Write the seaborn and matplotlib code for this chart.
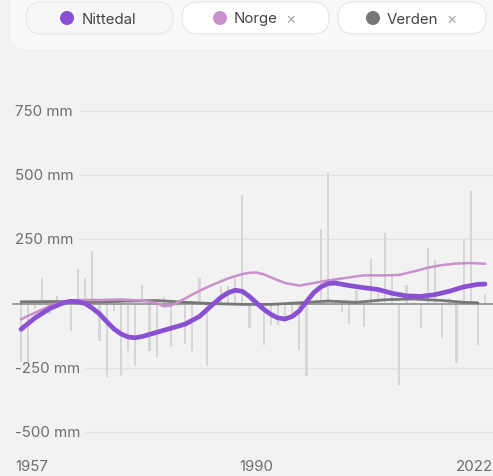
import numpy as np
import matplotlib
matplotlib.use("Agg")
import matplotlib.pyplot as plt
from matplotlib.patches import FancyBboxPatch, Circle
import matplotlib.transforms as mtransforms
import seaborn as sns

# årlige avvik (mm) for Nittedal, 1957-2022
years = list(range(1957, 2023))
anomaly = [-226, -226, -20, 98, -40, 31, -10, -108, 133, 98,
           203, -144, -285, -30, -280, -183, -242, 72, -183, -207,
           27, -168, -10, -156, -183, 101, -242, 8, 70, 68,
           98, 421, -94, 6, -160, -85, -85, -71, -40, -182,
           -280, 8, 290, 514, 10, -33, -81, 52, -91, 172,
           47, 273, 117, -316, 74, 8, -94, 218, 168, -133,
           20, -230, 247, 440, -160, 36]

# glattede kurver
nit_years = [1957, 1959, 1961, 1962, 1963, 1964, 1965, 1966, 1967, 1968, 1969, 1970,
             1971, 1972, 1973, 1974, 1976, 1978, 1980, 1982, 1984, 1985, 1986, 1987,
             1988, 1989, 1990, 1991, 1992, 1993, 1994, 1995, 1996, 1997, 1998, 1999,
             2000, 2001, 2003, 2005, 2007, 2009, 2011, 2013, 2015, 2017, 2019, 2021, 2022]
nit_vals = [-100, -55, -20, -8, 4, 9, 7, 0, -18, -40, -70, -98,
            -118, -130, -133, -128, -112, -96, -80, -50, 0, 24, 42, 52,
            48, 28, 2, -22, -42, -56, -60, -50, -28, 8, 42, 65,
            78, 80, 70, 62, 55, 40, 30, 28, 35, 48, 65, 75, 76]

nor_years = [1957, 1959, 1961, 1963, 1965, 1968, 1971, 1974, 1976, 1977, 1978, 1980,
             1982, 1984, 1986, 1988, 1989, 1990, 1991, 1992, 1994, 1996, 1998, 2000,
             2002, 2005, 2008, 2010, 2012, 2014, 2016, 2018, 2020, 2022]
nor_vals = [-61, -35, -10, 8, 14, 14, 16, 12, 2, -10, -8, 20,
            50, 75, 98, 115, 120, 121, 114, 102, 80, 70, 80, 90,
            98, 110, 110, 112, 125, 140, 150, 156, 158, 155]

ver_years = [1957, 1962, 1967, 1972, 1976, 1980, 1984, 1988, 1992, 1996, 2000, 2004,
             2008, 2012, 2016, 2019, 2021]
ver_vals = [7, 8, 5, 10, 12, 5, 0, -3, -3, 3, 10, 5, 15, 18, 12, 5, 3]

y_ticks = [750, 500, 250, -250, -500]
x_labels = [1957, 1990, 2022]

C_NIT = "#8a4fd2"
C_NOR = "#c990cc"
C_VER = "#777777"
BG = "#f2f2f2"

sns.set_style("white")
plt.rcParams["font.family"] = ["Inter", "DejaVu Sans"]

W, H = 493, 477
fig = plt.figure(figsize=(W / 100, H / 100), dpi=100, facecolor=BG)
ax = fig.add_axes([0, 0, 1, 1], facecolor=BG)

# skala: 1957 -> px 21, 2022 -> px 485 ; 0 mm -> px 304.6
px_per_year = (485 - 21) / 65
xlim = (1957 - 21 / px_per_year, 1957 + (W - 21) / px_per_year)
mm_px = 1250 / 321
ax.set_ylim(-(H - 304.6) * mm_px, 304.6 * mm_px)

sns.barplot(x=years, y=anomaly, native_scale=True, width=0.3, color="#d6d6d6",
            saturation=1, errorbar=None, linewidth=0, edgecolor="none", ax=ax, zorder=1)
ax.set_xlim(*xlim)

ax.axhline(0, xmin=13 / W, xmax=1, color="#9c9c9c", lw=1.4, zorder=2)

sns.lineplot(x=ver_years, y=ver_vals, color=C_VER, lw=2.0, ax=ax, zorder=3)
sns.lineplot(x=nor_years, y=nor_vals, color=C_NOR, lw=1.8, ax=ax, zorder=4)
sns.lineplot(x=nit_years, y=nit_vals, color=C_NIT, lw=3.4, ax=ax, zorder=5,
             solid_capstyle="round", solid_joinstyle="round")
ax.set_axis_off()

# y-etiketter og rutenett
blend = mtransforms.blended_transform_factory(ax.transAxes, ax.transData)
labels = []
for v in y_ticks:
    t = ax.text(15 / W, v, f"{v} mm", transform=blend, ha="left", va="center",
                fontsize=10.8, color="#6d6d6d")
    labels.append((v, t))
fig.canvas.draw()
r = fig.canvas.get_renderer()
for v, t in labels:
    x1 = t.get_window_extent(r).x1
    ax.axhline(v, xmin=(x1 + 6) / W, xmax=1, color="#e2e2e2", lw=1.0, zorder=0)

# x-etiketter
ybot = -(467 - 304.6) * mm_px
for yr, ha, dx in zip(x_labels, ["left", "center", "right"], [-6, 0, 8]):
    ax.annotate(str(yr), (yr, ybot), xytext=(dx * 0.72, 0), textcoords="offset points",
                ha=ha, va="center", fontsize=10.8, color="#6d6d6d")

# legende-panel øverst
lx = fig.add_axes([0, 0, 1, 1], facecolor="none")
lx.set_xlim(0, W)
lx.set_ylim(H, 0)
lx.set_axis_off()
lx.add_patch(FancyBboxPatch((11, -30), 500, 80, boxstyle="round,pad=0,rounding_size=15",
                            fc="#f9f9f9", ec="none"))
# (navn, farge, pille x0, x1, prikk x, tekst x, kryss x, fyll)
pills = [("Nittedal", C_NIT, 26, 173, 67, 82, None, "#f7f7f7"),
         ("Norge", C_NOR, 182, 329, 220, 234, 291, "#ffffff"),
         ("Verden", C_VER, 338, 486, 373, 387, 452, "#ffffff")]
for name, col, x0, x1, dx, tx, cx, fc in pills:
    lx.add_patch(FancyBboxPatch((x0, 3), x1 - x0, 32, boxstyle="round,pad=0,rounding_size=16",
                                fc=fc, ec="#e9e9e9", lw=1.0))
    lx.add_patch(Circle((dx, 19), 7, fc=col, ec="none"))
    lx.text(tx, 19.5, name, ha="left", va="center", fontsize=10.8, color="#444444")
    if cx is not None:
        lx.text(cx, 19, "×", ha="center", va="center", fontsize=11.5, color="#a8a8a8")

fig.savefig("out.png", dpi=100, facecolor=BG)
